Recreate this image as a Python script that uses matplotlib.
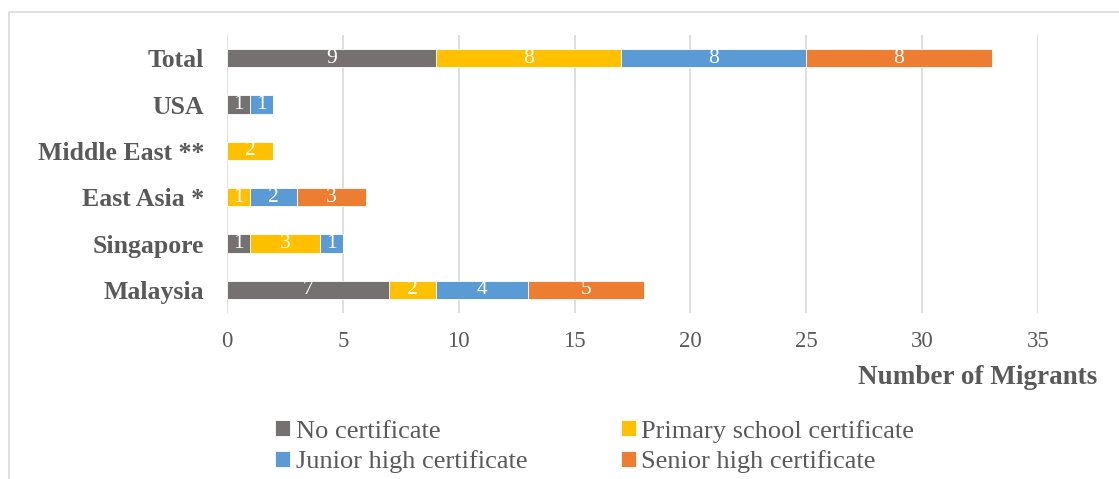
import matplotlib.pyplot as plt
from matplotlib.patches import Rectangle
import numpy as np

# data (bottom to top)
regions = ['Malaysia', 'Singapore', 'East Asia *', 'Middle East **', 'USA', 'Total']
no_cert = [7, 1, 0, 0, 1, 9]
primary = [2, 3, 1, 2, 0, 8]
junior = [4, 1, 2, 0, 1, 8]
senior = [5, 0, 3, 0, 0, 8]
series_names = ['No certificate', 'Primary school certificate',
                'Junior high certificate', 'Senior high certificate']
colors = ['#767171', '#FFC000', '#5B9BD5', '#ED7D31']
x_ticks = [0, 5, 10, 15, 20, 25, 30, 35]

plt.rcParams['font.family'] = ['Liberation Serif', 'DejaVu Serif']
txt = '#595959'

fig = plt.figure(figsize=(11.19, 4.79), dpi=100)
ax = fig.add_axes([227 / 1119, 1 - 313 / 479, (1038 - 227) / 1119, (313 - 35) / 479])

# outer chart border
fig.patches.append(Rectangle((9 / 1119, -0.1), 1.2, 1 - 12 / 479 + 0.1,
                             transform=fig.transFigure, fill=False,
                             edgecolor='#D9D9D9', linewidth=1.2))

y = np.arange(len(regions))
left = np.zeros(len(regions))
for vals, name, col in zip([no_cert, primary, junior, senior], series_names, colors):
    vals = np.array(vals, dtype=float)
    bars = ax.barh(y, vals, left=left, height=0.39, color=col, label=name,
                   edgecolor='white', linewidth=0.6, zorder=3)
    for b, v in zip(bars, vals):
        if v > 0:
            ax.text(b.get_x() + b.get_width() / 2, b.get_y() + b.get_height() / 2,
                    f'{int(v)}', ha='center', va='center', color='white',
                    fontsize=15.5, zorder=4)
    left += vals

ax.set_xlim(0, 35)
ax.set_ylim(-0.5, len(regions) - 0.5)
ax.set_xticks(x_ticks)
ax.set_yticks(y)
ax.set_yticklabels(regions, fontsize=18.5, fontweight='bold', color=txt)
ax.tick_params(axis='x', labelsize=16.5, labelcolor=txt, length=0, pad=13)
ax.tick_params(axis='y', length=0, pad=16.5)
ax.grid(axis='x', color='#D9D9D9', linewidth=1.2, zorder=0)
for s in ax.spines.values():
    s.set_visible(False)

fig.text(1097 / 1119, 1 - 378 / 479, 'Number of Migrants', ha='right', va='center',
         fontsize=19.5, fontweight='bold', color=txt)

handles, labels = ax.get_legend_handles_labels()
order = [0, 2, 1, 3]
leg = fig.legend([handles[i] for i in order], [labels[i] for i in order],
                 ncol=2, loc='center left', bbox_to_anchor=(275 / 1119, 1 - 446.5 / 479),
                 frameon=False, fontsize=19, handlelength=0.58, handleheight=0.58,
                 handletextpad=0.2, columnspacing=3.55, labelspacing=0.3,
                 borderpad=0, borderaxespad=0)
for t in leg.get_texts():
    t.set_color(txt)

fig.savefig('out.png', dpi=100)
